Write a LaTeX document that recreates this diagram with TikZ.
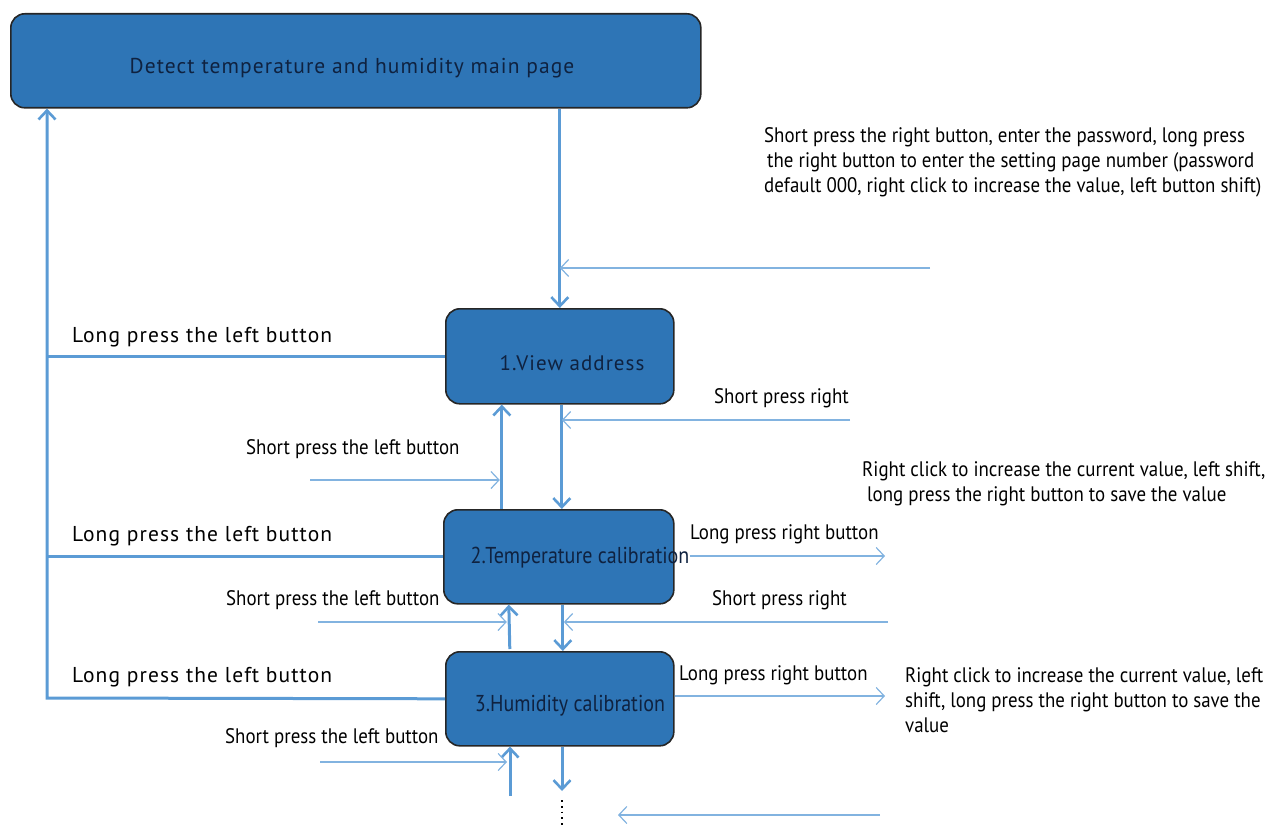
\documentclass[tikz,border=0pt]{standalone}
\usepackage{fontspec}
\setmainfont{PT Sans}
\newfontfamily\condf[FakeStretch=0.9]{PT Sans}
\newfontfamily\boxf[FakeStretch=0.87]{PT Sans}
\newfontfamily\spacedf[LetterSpace=5]{PT Sans}
\usetikzlibrary{arrows.meta}
\definecolor{boxfill}{HTML}{2E75B6}
\definecolor{thickc}{HTML}{5B9BD5}
\definecolor{thinc}{HTML}{82B3E0}
\definecolor{boxtext}{HTML}{0F2240}
\tikzset{
  state/.style={draw=black!85, line width=1.6pt, fill=boxfill, rounded corners=14pt, inner sep=0pt, anchor=north west},
  flow/.style={draw=thickc, line width=3pt, -{Straight Barb[length=9pt,width=17pt,line width=2.6pt]}},
  plain/.style={draw=thickc, line width=3pt},
  hint/.style={draw=thinc, line width=1.4pt, -{Straight Barb[length=8pt,width=17pt,line width=1.2pt]}},
  wide/.style={font=\spacedf\fontsize{21.5}{24}\selectfont, text=black, inner sep=0pt, anchor=west},
  narrow/.style={font=\condf\fontsize{21}{25}\selectfont, text=black, inner sep=0pt, anchor=west},
  para/.style={font=\condf\fontsize{21}{25}\selectfont, text=black, inner sep=0pt, anchor=north west, align=left},
  boxlbl/.style={text=boxtext, inner sep=0pt},
}
\begin{document}
\begin{tikzpicture}[x=1pt,y=-1pt]
\useasboundingbox (0,0) rectangle (1279,826);
% boxes
\node[state, minimum width=690pt, minimum height=94pt] (main) at (10,13) {};
\node[state, minimum width=228pt, minimum height=95pt] (box1) at (445,308) {};
\node[state, minimum width=230pt, minimum height=94pt] (box2) at (443,509) {};
\node[state, minimum width=228pt, minimum height=94pt] (box3) at (445,651) {};
% box labels
\node[boxlbl, font=\spacedf\fontsize{21.5}{24}\selectfont] (t0) at (352,68) {Detect temperature and humidity main page};
\node[boxlbl, font=\spacedf\fontsize{21}{24}\selectfont] (t1) at (572,363) {1.View address};
\node[boxlbl, font=\boxf\fontsize{23}{25}\selectfont] (t2) at (580,558) {2.Temperature calibration};
\node[boxlbl, font=\boxf\fontsize{23}{25}\selectfont] (t3) at (570,706) {3.Humidity calibration};
% main flow
\draw[flow] (box1.north |- main.south) -- (box1.north);
\draw[flow] ([xshift=2pt]box1.south) -- ([xshift=2pt]box1.south |- box2.north);
\draw[flow] ([xshift=-57pt]box2.north) -- ([xshift=-57pt]box2.north |- box1.south);
\draw[flow] ([xshift=4pt]box2.south) -- ([xshift=4pt]box2.south |- box3.north);
\draw[flow] ([xshift=-50pt]box3.north |- 0,649) -- ([xshift=-50pt]box2.south);
\coordinate (d3) at (562,791);
\coordinate (u3) at (510,796);
\draw[flow] (box3.south -| d3) -- (d3);
\draw[flow] (u3) -- (u3 |- box3.south);
\coordinate (dots) at (562,800);
\draw[black, line width=1.8pt, dash pattern=on 1.8pt off 4pt] (dots) -- ++(0,26);
% left return loop
\coordinate (lc) at (47,698);
\draw[flow] (box3.west) -- (lc) -- (lc |- main.south);
\draw[plain] (box1.west) -- (box1.west -| lc);
\draw[plain] (box2.west) -- (box2.west -| lc);
% hint arrows
\coordinate (h0) at (930,268);
\draw[hint] (h0) -- (h0 -| box1.north);
\coordinate (h1) at (850,420);
\draw[hint] (h1) -- ([xshift=2pt]h1 -| box1.south);
\coordinate (h2) at (310,480);
\draw[hint] (h2) -- ([xshift=-59pt]h2 -| box2.north);
\coordinate (h3) at (888,622);
\draw[hint] (h3) -- ([xshift=5pt]h3 -| box2.south);
\coordinate (h4) at (318,622);
\draw[hint] (h4) -- ([xshift=-52pt]h4 -| box2.south);
\coordinate (h5) at (320,762);
\draw[hint] (h5) -- ([xshift=-3pt]h5 -| u3);
\coordinate (h6) at (880,815);
\coordinate (h6e) at (618,815);
\draw[hint] (h6) -- (h6e);
\coordinate (r2) at (885,556);
\draw[hint] (t2.east |- r2) -- (r2);
\coordinate (r3) at (885,696);
\draw[hint] (box3.east |- r3) -- (r3);
% labels
\node[wide] (l1) at (72,337) {Long press the left button};
\node[wide] (l2) at (72,536) {Long press the left button};
\node[wide] (l3) at (72,677) {Long press the left button};
\node[narrow] (s1) at (246,449) {Short press the left button};
\node[narrow] (s2) at (226,600) {Short press the left button};
\node[narrow] (s3) at (225,738) {Short press the left button};
\node[narrow] (p1) at (714,398) {Short press right};
\node[narrow] (p2) at (712,600) {Short press right};
\node[narrow] (q1) at (690,534) {Long press right button};
\node[narrow] (q2) at (679,675) {Long press right button};
\node[para] (n0) at (764,127) {Short press the right button, enter the password, long press\\\hspace*{3pt}the right button to enter the setting page number (password\\default 000, right click to increase the value, left button shift)};
\node[para] (n1) at (862,461) {Right click to increase the current value, left shift,\\\hspace*{5pt}long press the right button to save the value};
\node[para] (n2) at (905,667) {Right click to increase the current value, left\\shift, long press the right button to save the\\value};
\end{tikzpicture}
\end{document}
